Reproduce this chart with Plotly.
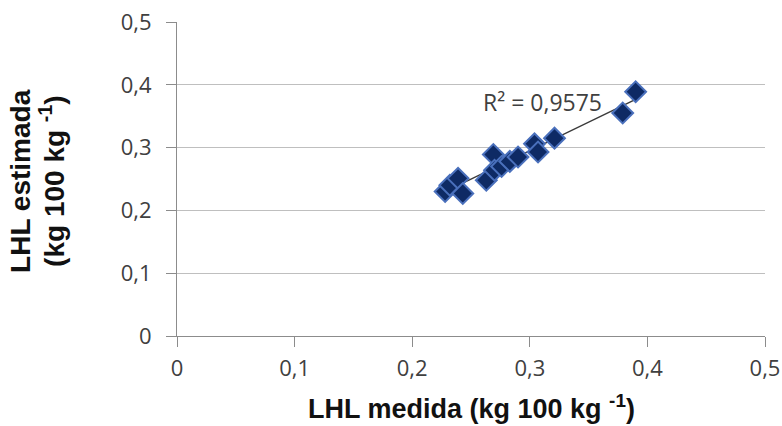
import numpy as np
import plotly.graph_objects as go

lhl_medida = [0.228, 0.232, 0.239, 0.243, 0.263, 0.269, 0.270, 0.276, 0.283, 0.290,
              0.304, 0.307, 0.321, 0.379, 0.390]
lhl_estimada = [0.230, 0.240, 0.251, 0.227, 0.248, 0.289, 0.264, 0.270, 0.278, 0.285,
                0.306, 0.293, 0.315, 0.355, 0.389]
r2_label = "R² = 0,9575"
tick_vals = [0, 0.1, 0.2, 0.3, 0.4, 0.5]
tick_text = ["0", "0,1", "0,2", "0,3", "0,4", "0,5"]
x_title = "<b>LHL medida (kg 100 kg <sup>-1</sup>)</b>"
y_title_1 = "<b>LHL estimada</b>"
y_title_2 = "<b>(kg 100 kg <sup>-1</sup>)</b>"

x = np.array(lhl_medida)
y = np.array(lhl_estimada)
m, b = np.polyfit(x, y, 1)
xl = np.array([x.min(), x.max()])

tick_font = "Open Sans, Liberation Sans, sans-serif"
title_font = "Liberation Sans, Arial, sans-serif"
fig = go.Figure()
fig.add_trace(go.Scatter(x=xl, y=m * xl + b, mode="lines",
                         line=dict(color="#3a3a3a", width=1.3), showlegend=False))
fig.add_trace(go.Scatter(x=x, y=y, mode="markers",
                         marker=dict(symbol="diamond", size=16, color="#0E2A64",
                                     line=dict(color="#4A70BC", width=2)),
                         showlegend=False))
fig.add_annotation(x=0.311, y=0.373, text=r2_label, showarrow=False,
                   font=dict(family=tick_font, size=23, color="#404040"))

# axis titles
fig.add_annotation(xref="paper", yref="paper", x=0.5, y=(336 - 407) / 314,
                   yanchor="middle", text=x_title, showarrow=False,
                   font=dict(family=title_font, size=27, color="#111111"))
fig.add_annotation(xref="paper", yref="paper", x=(21 - 177) / 588, y=0.494,
                   xanchor="center", yanchor="middle", textangle=-90,
                   text=y_title_1, showarrow=False,
                   font=dict(family=title_font, size=28, color="#111111"))
fig.add_annotation(xref="paper", yref="paper", x=(52 - 177) / 588, y=0.494,
                   xanchor="center", yanchor="middle", textangle=-90,
                   text=y_title_2, showarrow=False,
                   font=dict(family=title_font, size=28, color="#111111"))

fig.update_layout(
    width=782, height=426,
    margin=dict(l=177, r=17, t=22, b=90),
    paper_bgcolor="white", plot_bgcolor="white",
    font=dict(family=tick_font, color="#404040", size=18),
    xaxis=dict(range=[0, 0.5], tickvals=tick_vals, ticktext=tick_text,
               automargin=False,
               showgrid=False, zeroline=False, showline=True, linecolor="#8C8C8C",
               linewidth=1, ticks="outside", ticklen=10, tickcolor="#8C8C8C",
               tickfont=dict(size=22, color="#404040"), ticklabelstandoff=3),
    yaxis=dict(range=[0, 0.5], tickvals=tick_vals, ticktext=tick_text,
               automargin=False,
               showgrid=True, gridcolor="#BFBFBF", gridwidth=1, zeroline=False,
               showline=True, linecolor="#8C8C8C", linewidth=1,
               ticks="outside", ticklen=10, tickcolor="#8C8C8C",
               tickfont=dict(size=22, color="#404040"), ticklabelstandoff=10),
)
fig.write_html("out.html")
